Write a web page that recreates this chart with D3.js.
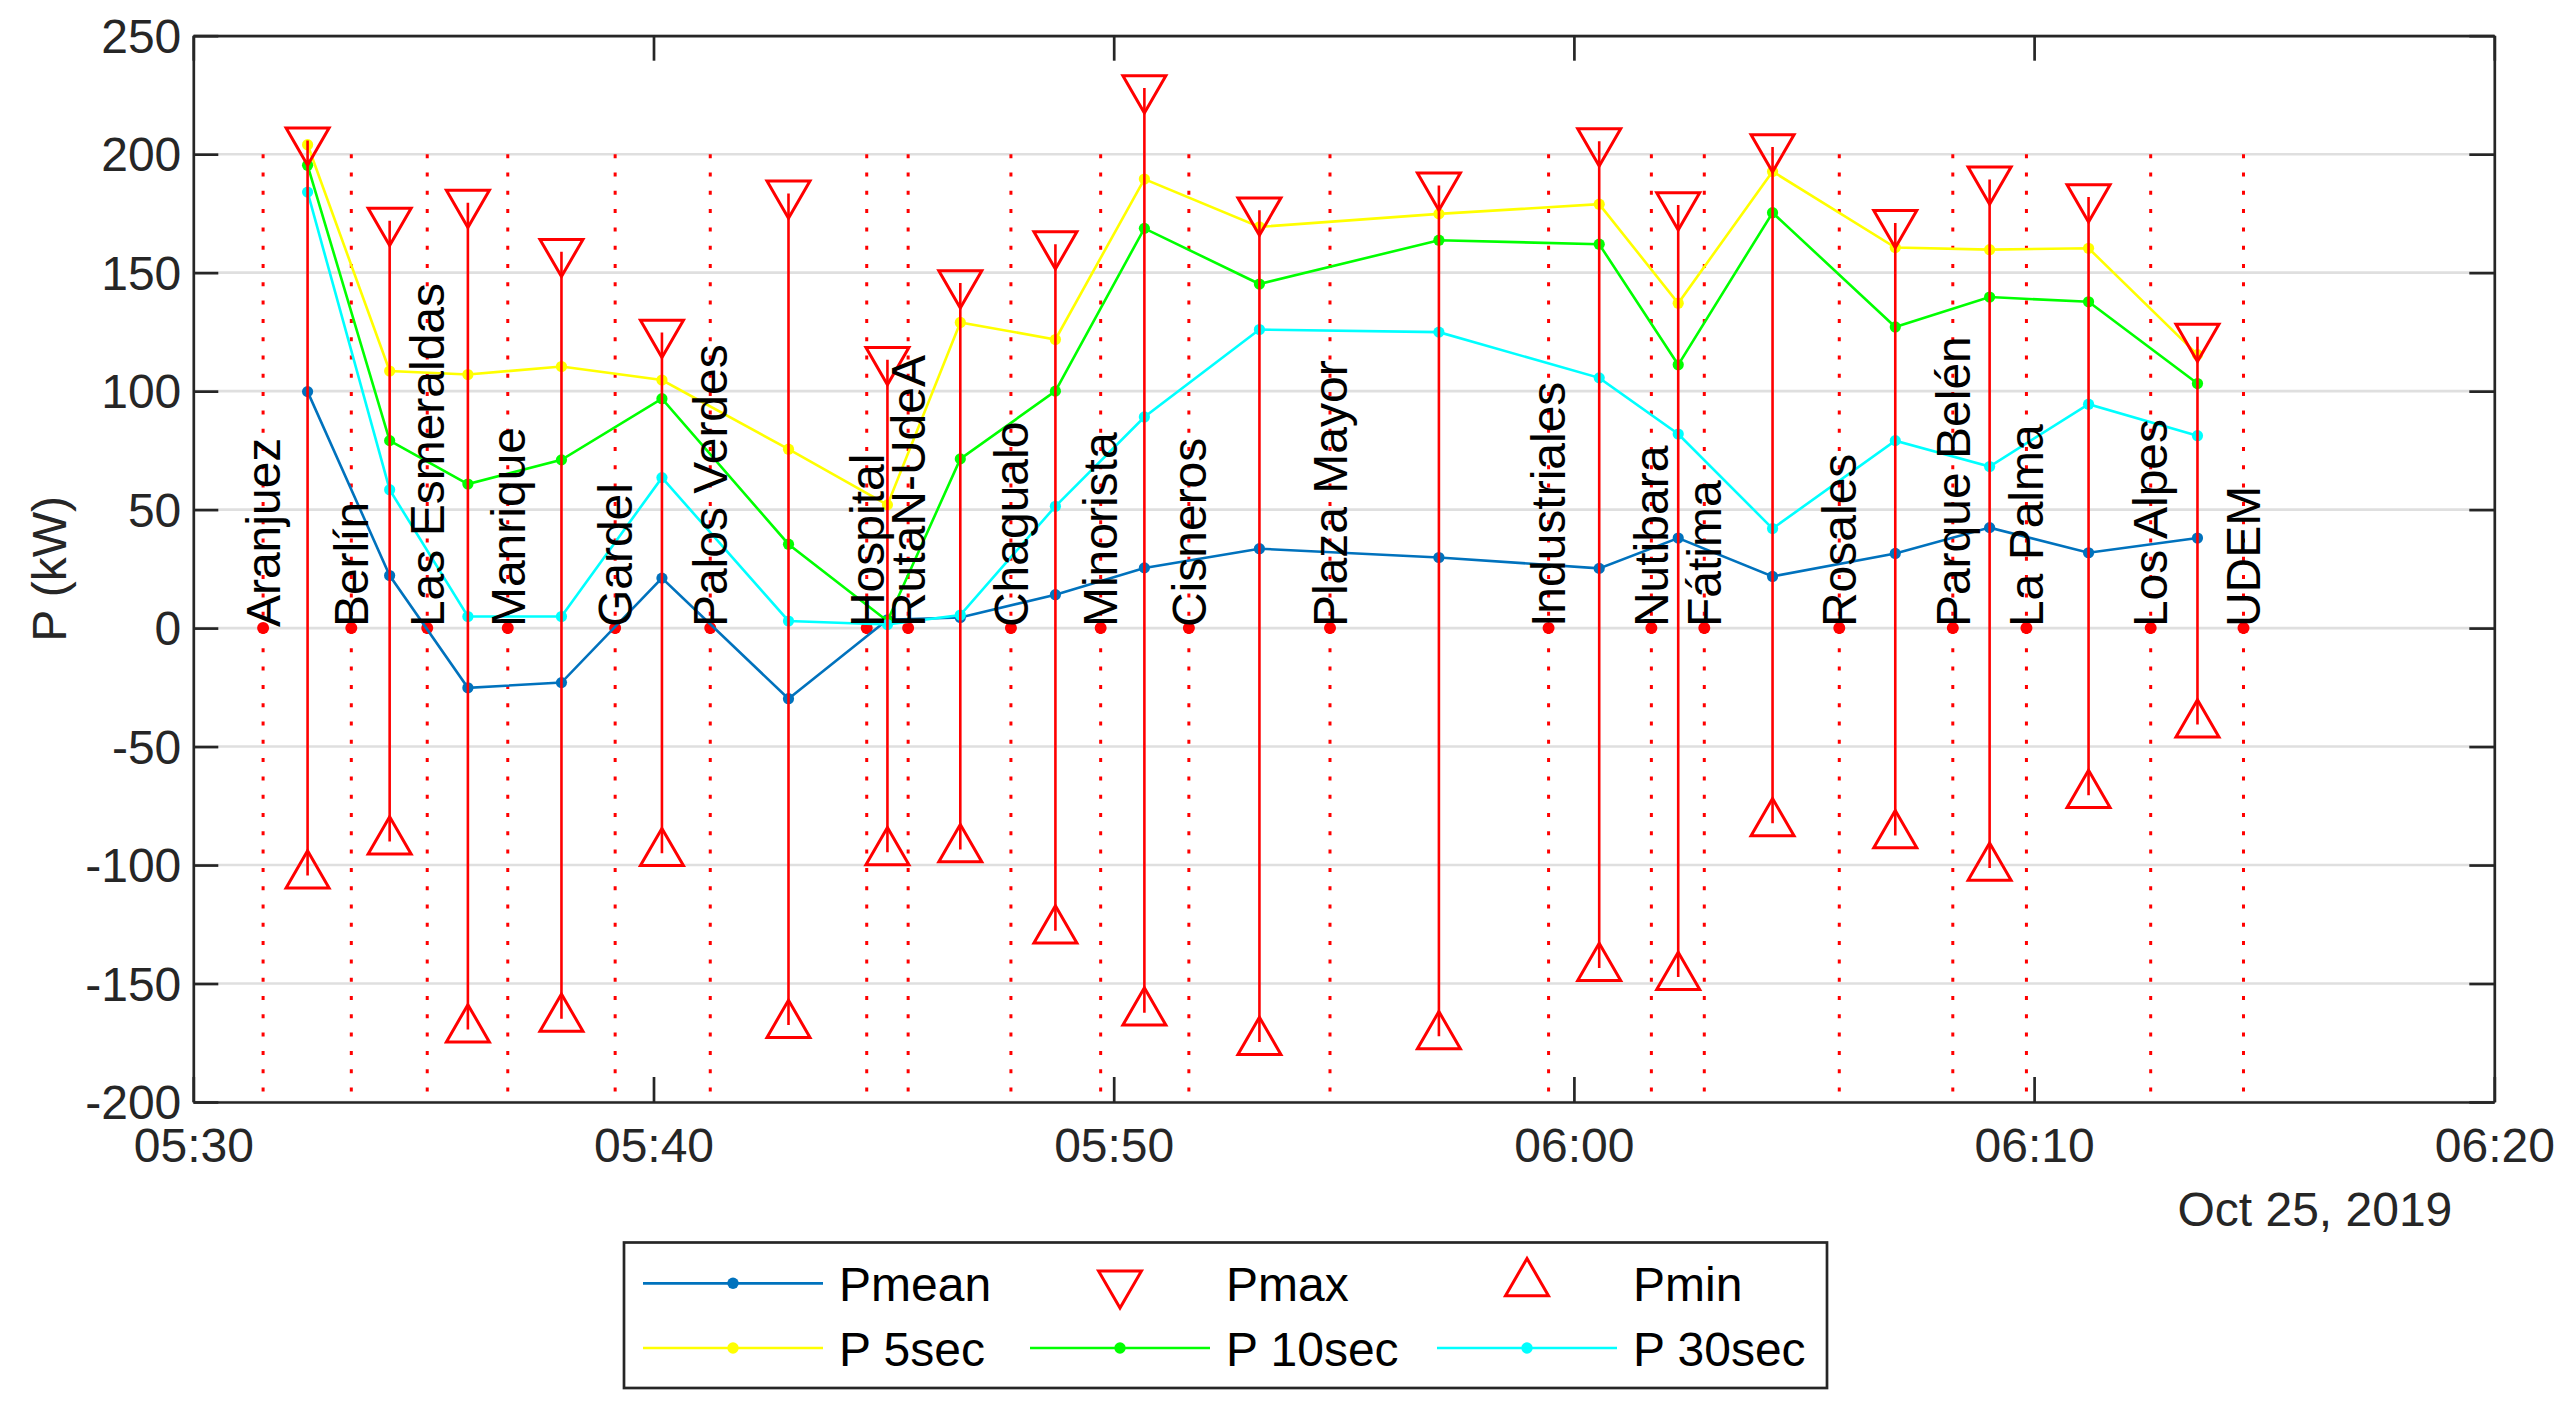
<!DOCTYPE html>
<html><head><meta charset="utf-8">
<script src="https://cdn.jsdelivr.net/npm/d3@7"></script>
<style>
body{margin:0;background:#fff}
svg{display:block}
text{font-family:"Liberation Sans",Arial,Helvetica,sans-serif}
</style>
</head><body>
<svg id="chart" width="2572" height="1408"></svg>
<script>
// ---------------- data ----------------
const day = "2019-10-25";
const stationNames = ["Aranjuez","Berlín","Las Esmeraldas","Manrique","Gardel","Palos Verdes","Hospital","RutaN-UdeA","Chagualo","Minorista","Cisneros","Plaza Mayor","Industriales","Nutibara","Fátima","Rosales","Parque Belén","La Palma","Los Alpes","UDEM"];
const stationTimes = ["05:31:31","05:33:26","05:35:05","05:36:50","05:39:10","05:41:14","05:44:38","05:45:32","05:47:46","05:49:43","05:51:38","05:54:42","05:59:27","06:01:41","06:02:50","06:05:46","06:08:14","06:09:50","06:12:32","06:14:33"];
const sampleTimes = ["05:32:29","05:34:16","05:35:58","05:38:00","05:40:11","05:42:56","05:45:05","05:46:40","05:48:44","05:50:40","05:53:10","05:57:04","06:00:33","06:02:16","06:04:19","06:06:59","06:09:02","06:11:11","06:13:33"];
const pMean = [99.8, 22.2, -25.2, -23.0, 21.1, -29.8, 3.5, 4.5, 14.1, 25.4, 33.5, 29.8, 25.2, 38.0, 21.8, 31.5, 42.4, 31.8, 38.0];
const pMax  = [205.8, 171.9, 179.5, 158.8, 124.7, 183.4, 113.2, 145.6, 162.0, 227.9, 176.3, 186.8, 205.5, 178.5, 203.0, 171.0, 189.3, 181.9, 123.0];
const pMin  = [-104.4, -90.1, -169.4, -164.9, -95.0, -167.5, -94.6, -93.4, -127.7, -162.3, -174.7, -172.3, -143.5, -147.3, -82.4, -87.5, -101.2, -70.5, -40.7];
const p5    = [204.0, 108.5, 107.0, 110.4, 104.7, 75.5, 52.0, 129.0, 121.8, 189.5, 169.3, 174.8, 178.9, 137.1, 192.7, 160.6, 159.7, 160.3, 115.4];
const p10   = [195.3, 79.1, 60.8, 71.0, 96.8, 35.4, 3.0, 71.4, 100.0, 168.7, 145.2, 163.7, 162.0, 111.1, 175.3, 127.1, 139.7, 137.7, 103.2];
const p30   = [184.0, 58.4, 4.9, 4.9, 63.5, 3.0, 1.5, 5.5, 51.4, 89.1, 126.0, 124.9, 105.6, 81.9, 42.0, 79.1, 68.2, 94.5, 81.2];
const xTickLabels = ["05:30","05:40","05:50","06:00","06:10","06:20"];
const yTickValues = [-200,-150,-100,-50,0,50,100,150,200,250];
const stationLineTop = 200;
const dateLabel = "Oct 25, 2019";
const yLabel = "P (kW)";
const legendLabels = ["Pmean","Pmax","Pmin","P 5sec","P 10sec","P 30sec"];

// ---------------- setup ----------------
const parse = d3.timeParse("%Y-%m-%d %H:%M:%S");
const T = s => parse(day + " " + (s.length === 5 ? s + ":00" : s));
const svg = d3.select("#chart");
const L = 193.3, R = 2494.3, TOP = 35.7, B = 1102;
const axisCol = "#262626";
const x = d3.scaleTime().domain([T(xTickLabels[0]), T(xTickLabels[xTickLabels.length-1])]).range([L, R]);
const y = d3.scaleLinear().domain([-200, 250]).range([B, TOP]);
const cBlue = "#0072BD", cYel = "#FFFF00", cGrn = "#00FF00", cCyan = "#00FFFF", cRed = "#FF0000";

// grid
svg.append("g").selectAll("line").data(yTickValues).join("line")
  .attr("x1", L).attr("x2", R).attr("y1", d => y(d)).attr("y2", d => y(d))
  .attr("stroke", "#dfdfdf").attr("stroke-width", 2.6);

// station dotted lines
const stT = stationTimes.map(T);
svg.append("g").selectAll("line").data(stT).join("line")
  .attr("x1", d => x(d)).attr("x2", d => x(d))
  .attr("y1", y(stationLineTop)).attr("y2", B)
  .attr("stroke", cRed).attr("stroke-width", 3).attr("stroke-dasharray", "4 14.3");
svg.append("g").selectAll("circle").data(stT).join("circle")
  .attr("cx", d => x(d)).attr("cy", y(0)).attr("r", 6).attr("fill", cRed);

// series
const sT = sampleTimes.map(T);
const series = [[pMean, cBlue], [p5, cYel], [p10, cGrn], [p30, cCyan]];
const lineGen = d3.line().x(d => x(d[0])).y(d => y(d[1]));
series.forEach(([vals, col]) => {
  const pts = sT.map((t, i) => [t, vals[i]]);
  const g = svg.append("g");
  g.append("path").attr("d", lineGen(pts)).attr("fill", "none").attr("stroke", col).attr("stroke-width", 2.6);
  g.selectAll("circle").data(pts).join("circle")
    .attr("cx", d => x(d[0])).attr("cy", d => y(d[1])).attr("r", 5.6).attr("fill", col);
});

// red range lines
svg.append("g").selectAll("line").data(sT).join("line")
  .attr("x1", d => x(d)).attr("x2", d => x(d))
  .attr("y1", (d, i) => y(pMin[i])).attr("y2", (d, i) => y(pMax[i]))
  .attr("stroke", cRed).attr("stroke-width", 2.6);

// triangles
const tri = d3.symbol(d3.symbolTriangle, 800);
svg.append("g").selectAll("path").data(sT).join("path")
  .attr("d", tri)
  .attr("transform", (d, i) => `translate(${x(d)},${y(pMax[i])}) rotate(180)`)
  .attr("fill", "none").attr("stroke", cRed).attr("stroke-width", 3);
svg.append("g").selectAll("path").data(sT).join("path")
  .attr("d", tri)
  .attr("transform", (d, i) => `translate(${x(d)},${y(pMin[i])})`)
  .attr("fill", "none").attr("stroke", cRed).attr("stroke-width", 3);

// station labels
svg.append("g").selectAll("text").data(stationNames).join("text")
  .attr("transform", (d, i) => `translate(${x(stT[i])},${y(0) - 1}) rotate(-90)`)
  .attr("dy", "0.35em").attr("font-size", 48).attr("fill", "#000")
  .text(d => d);

// axes
const xTicks = xTickLabels.map(T);
const axB = d3.axisBottom(x).tickValues(xTicks).tickFormat(d3.timeFormat("%H:%M")).tickSizeInner(-25).tickSizeOuter(0).tickPadding(26);
const axT = d3.axisTop(x).tickValues(xTicks).tickFormat("").tickSizeInner(-25).tickSizeOuter(0);
const axLf = d3.axisLeft(y).tickValues(yTickValues).tickFormat(d => String(d)).tickSizeInner(-25).tickSizeOuter(0).tickPadding(12);
const axRt = d3.axisRight(y).tickValues(yTickValues).tickFormat("").tickSizeInner(-25).tickSizeOuter(0);
function styleAxis(g) {
  g.select(".domain").attr("stroke", axisCol).attr("stroke-width", 2.7);
  g.selectAll(".tick line").attr("stroke", axisCol).attr("stroke-width", 2.7);
  g.selectAll(".tick text").attr("fill", axisCol).attr("font-size", 48)
    .attr("font-family", '"Liberation Sans",Arial,Helvetica,sans-serif');
}
svg.append("g").attr("transform", `translate(0,${B})`).call(axB).call(styleAxis);
svg.append("g").attr("transform", `translate(0,${TOP})`).call(axT).call(styleAxis);
svg.append("g").attr("transform", `translate(${L},0)`).call(axLf).call(styleAxis)
  .selectAll(".tick text").attr("dy", "0.35em");
svg.append("g").attr("transform", `translate(${R},0)`).call(axRt).call(styleAxis);

// date + y label
svg.append("text").attr("x", R - 42).attr("y", 1226).attr("text-anchor", "end")
  .attr("font-size", 48).attr("fill", axisCol).text(dateLabel);
svg.append("text").attr("transform", `translate(66,${(TOP + B) / 2}) rotate(-90)`)
  .attr("text-anchor", "middle").attr("font-size", 48).attr("fill", axisCol).text(yLabel);

// legend
const lg = svg.append("g");
lg.append("rect").attr("x", 624).attr("y", 1242.5).attr("width", 1203).attr("height", 145.5)
  .attr("fill", "#fff").attr("stroke", axisCol).attr("stroke-width", 2.7);
const colX = [643, 1030, 1437];
const rowY = [1283.3, 1348];
const legendItems = [
  {type: "line", col: cBlue}, {type: "down"}, {type: "up"},
  {type: "line", col: cYel}, {type: "line", col: cGrn}, {type: "line", col: cCyan}
];
legendItems.forEach((it, k) => {
  const cx = colX[k % 3], cy = rowY[Math.floor(k / 3)];
  if (it.type === "line") {
    lg.append("line").attr("x1", cx).attr("x2", cx + 180).attr("y1", cy).attr("y2", cy)
      .attr("stroke", it.col).attr("stroke-width", 2.7);
    lg.append("circle").attr("cx", cx + 90).attr("cy", cy).attr("r", 5.7).attr("fill", it.col);
  } else {
    lg.append("path").attr("d", tri)
      .attr("transform", `translate(${cx + 90},${cy})` + (it.type === "down" ? " rotate(180)" : ""))
      .attr("fill", "none").attr("stroke", cRed).attr("stroke-width", 3);
  }
  lg.append("text").attr("x", cx + 196).attr("y", cy + 18).attr("font-size", 48).attr("fill", "#000")
    .text(legendLabels[k]);
});
</script>
</body></html>
